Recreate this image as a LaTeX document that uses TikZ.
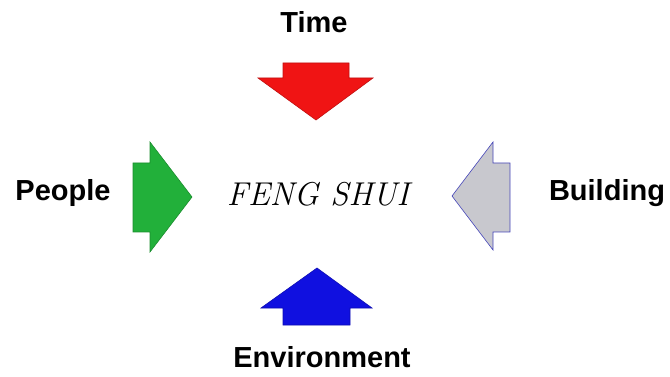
\documentclass[tikz,border=0pt]{standalone}
\usepackage{fontspec}
\setsansfont{Liberation Sans}
\definecolor{arrR}{RGB}{240,20,20}
\definecolor{arrG}{RGB}{34,176,58}
\definecolor{arrB}{RGB}{16,16,224}
\definecolor{arrS}{RGB}{200,200,206}
\begin{document}
\begin{tikzpicture}[x=1pt,y=-1pt,
  lbl/.style={font=\fontsize{29}{32}\selectfont\sffamily\bfseries},
  blk/.style={line width=0.6pt,line join=miter}]
\useasboundingbox (0,0) rectangle (670,377);
% labels
\node[lbl] (time) at (314,22) {Time};
\node[lbl] (people) at (63,193) {People};
\node[lbl] (building) at (607,193) {Building};
\node[lbl] (env) at (322,357) {Environment};
\node[font=\fontsize{33}{36}\selectfont\itshape] (fs) at (318,194) {FENG SHUI};
% block arrows
\filldraw[blk,fill=arrR,draw=arrR!80!black] (316,120) -- (258,78) -- (283,78) -- (283,63) -- (349,63) -- (349,78) -- (373,78) -- cycle;
\filldraw[blk,fill=arrB,draw=arrB!80!black] (317,268) -- (261,308) -- (283,308) -- (283,325) -- (350,325) -- (350,308) -- (372,308) -- cycle;
\filldraw[blk,fill=arrG,draw=arrG!80!black] (192,197) -- (150,142) -- (150,163) -- (133,163) -- (133,232) -- (150,232) -- (150,252) -- cycle;
\filldraw[blk,fill=arrS,draw=blue!45!gray] (452,196) -- (493,142) -- (493,163) -- (510,163) -- (510,232) -- (493,232) -- (493,250) -- cycle;
\end{tikzpicture}
\end{document}
